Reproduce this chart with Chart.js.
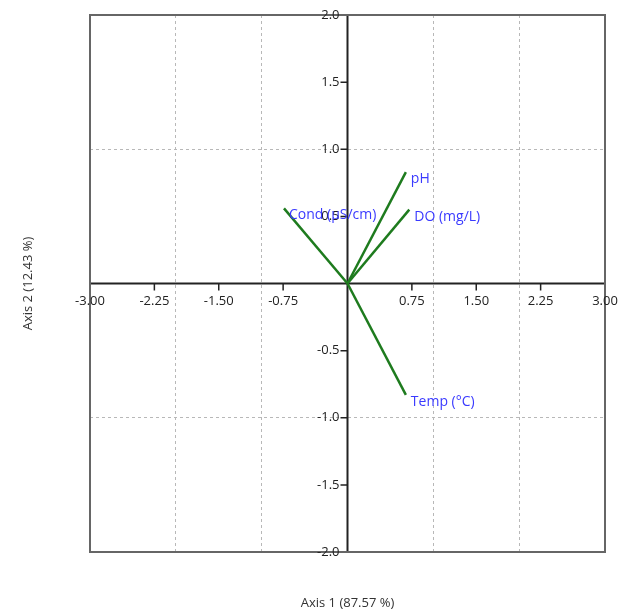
<!DOCTYPE html>
<html>
<head>
<meta charset="utf-8">
<script src="https://cdn.jsdelivr.net/npm/chart.js@4"></script>
<style>
  html, body { margin: 0; padding: 0; background: #fff; }
  #wrap { width: 630px; height: 611px; }
</style>
</head>
<body>
<div id="wrap"><canvas id="biplot"></canvas></div>
<script>
// loadings (axis 1, axis 2) for each variable
const variables = ["pH", "DO (mg/L)", "Cond (µS/cm)", "Temp (°C)"];
const axis1 = [0.68, 0.72, -0.74, 0.68];
const axis2 = [0.83, 0.55, 0.56, -0.83];

const xTicks = [-3, -2.25, -1.5, -0.75, 0.75, 1.5, 2.25, 3];
const xTickLabels = ["-3.00", "-2.25", "-1.50", "-0.75", "0.75", "1.50", "2.25", "3.00"];
const yTicks = [2, 1.5, 1, 0.5, -0.5, -1, -1.5, -2];
const yTickLabels = ["2.0", "1.5", "1.0", "0.5", "-0.5", "-1.0", "-1.5", "-2.0"];

const xTitle = "Axis 1 (87.57 %)";
const yTitle = "Axis 2 (12.43 %)";

const FONT = "'Open Sans', 'DejaVu Sans', sans-serif";

const datasets = variables.map((name, i) => ({
  label: name,
  data: [{ x: 0, y: 0 }, { x: axis1[i], y: axis2[i] }],
  showLine: true,
  borderColor: "#1e7b1e",
  borderWidth: 2.5,
  pointRadius: 0,
}));

// box, centre axes, ticks, labels and titles
const biplotAxes = {
  id: "biplotAxes",
  beforeDatasetsDraw(chart) {
    const { ctx, chartArea: a, scales: { x, y } } = chart;
    const x0 = x.getPixelForValue(0);
    const y0 = y.getPixelForValue(0);
    ctx.save();

    ctx.strokeStyle = "#222";
    ctx.lineWidth = 2;
    ctx.beginPath();
    ctx.moveTo(a.left, y0);
    ctx.lineTo(a.right, y0);
    ctx.moveTo(x0, a.top);
    ctx.lineTo(x0, a.bottom);
    ctx.stroke();

    ctx.lineWidth = 1.5;
    ctx.beginPath();
    xTicks.forEach((v) => {
      const px = x.getPixelForValue(v);
      ctx.moveTo(px, y0);
      ctx.lineTo(px, y0 + 7);
    });
    yTicks.forEach((v) => {
      const py = y.getPixelForValue(v);
      ctx.moveTo(x0, py);
      ctx.lineTo(x0 - 7, py);
    });
    ctx.stroke();

    ctx.strokeStyle = "#666";
    ctx.lineWidth = 2;
    ctx.strokeRect(a.left, a.top, a.right - a.left, a.bottom - a.top);

    ctx.fillStyle = "#222";
    ctx.font = "13px " + FONT;
    ctx.textAlign = "center";
    ctx.textBaseline = "top";
    xTicks.forEach((v, i) => {
      ctx.fillText(xTickLabels[i], x.getPixelForValue(v), y0 + 11);
    });
    ctx.textAlign = "right";
    ctx.textBaseline = "middle";
    yTicks.forEach((v, i) => {
      ctx.fillText(yTickLabels[i], x0 - 8, y.getPixelForValue(v));
    });

    ctx.fillStyle = "#333";
    ctx.textAlign = "center";
    ctx.textBaseline = "middle";
    ctx.fillText(xTitle, (a.left + a.right) / 2, 603);
    ctx.translate(28, (a.top + a.bottom) / 2);
    ctx.rotate(-Math.PI / 2);
    ctx.fillText(yTitle, 0, 0);
    ctx.restore();
  },
  afterDatasetsDraw(chart) {
    const { ctx, scales: { x, y } } = chart;
    ctx.save();
    ctx.fillStyle = "#3a3aff";
    ctx.font = "14px " + FONT;
    ctx.textAlign = "left";
    ctx.textBaseline = "middle";
    variables.forEach((name, i) => {
      ctx.fillText(name, x.getPixelForValue(axis1[i]) + 5, y.getPixelForValue(axis2[i]) + 7);
    });
    ctx.restore();
  },
};

new Chart(document.getElementById("biplot"), {
  type: "scatter",
  data: { datasets },
  options: {
    responsive: true,
    maintainAspectRatio: false,
    animation: false,
    layout: { padding: { left: 90, right: 25, top: 15, bottom: 59 } },
    plugins: { legend: { display: false }, tooltip: { enabled: false } },
    scales: {
      x: {
        min: -3,
        max: 3,
        ticks: { display: false, stepSize: 1 },
        border: { display: false, dash: [3, 3] },
        grid: { color: "#b8b8b8", lineWidth: 1, drawTicks: false },
      },
      y: {
        min: -2,
        max: 2,
        ticks: { display: false, stepSize: 1 },
        border: { display: false, dash: [3, 3] },
        grid: { color: "#b8b8b8", lineWidth: 1, drawTicks: false },
      },
    },
  },
  plugins: [biplotAxes],
});
</script>
</body>
</html>
